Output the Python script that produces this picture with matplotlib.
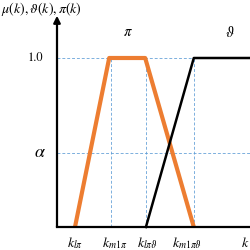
import matplotlib.pyplot as plt

plt.rcParams['mathtext.fontset'] = 'stix'
plt.rcParams['font.family'] = 'STIXGeneral'

# breakpoints on the k axis
k_ticks = [0.5, 1.5, 2.47, 3.8]
k_labels = [r'$k_{l\pi}$', r'$k_{m1\pi}$', r'$k_{l\pi\vartheta}$', r'$k_{m1\pi\vartheta}$']
k_end = 5.4

alpha = 0.44

# membership functions
pi_x = [0.5, 1.45, 2.45, 3.8]
pi_y = [0.0, 1.0, 1.0, 0.0]
theta_x = [2.47, 3.8, 5.4]
theta_y = [0.0, 1.0, 1.0]

orange = '#ED7D31'
blue = '#5B9BD5'

fig = plt.figure(figsize=(2.5, 2.5), dpi=100)
ax = fig.add_axes([0, 0, 1, 1])
ax.set_xlim(-57 / 36, 193 / 36)
ax.set_ylim(-23 / 169, 227 / 169)
ax.axis('off')

# guide lines
for y in [1.0, alpha]:
    ax.plot([0, k_end], [y, y], color=blue, lw=0.7, alpha=0.8, ls=(0, (3, 2)), zorder=1)
for x in k_ticks[1:]:
    ax.plot([x, x], [0, 1.0], color=blue, lw=0.7, alpha=0.8, ls=(0, (3, 2)), zorder=1)

# axes
ax.plot([0, k_end], [0, 0], color='black', lw=1.6, zorder=3)
ax.annotate('', xy=(0, 1.25), xytext=(0, 0),
            arrowprops=dict(arrowstyle='-|>', color='black', lw=1.6,
                            mutation_scale=10, shrinkA=0, shrinkB=0), zorder=3)

ax.plot(pi_x, pi_y, color=orange, lw=3, solid_capstyle='butt', zorder=2)
ax.plot(theta_x, theta_y, color='black', lw=1.8, zorder=2)

ax.text(-1.56, 1.29, r'$\mu(k),\vartheta(k),\pi(k)$', fontsize=10, va='center', ha='left')
ax.text(1.97, 1.15, r'$\pi$', fontsize=10.5, ha='center', va='center')
ax.text(4.8, 1.15, r'$\vartheta$', fontsize=10.5, ha='center', va='center')
ax.text(-0.6, 1.0, '1.0', fontsize=9, ha='center', va='center')
ax.text(-0.47, alpha, r'$\alpha$', fontsize=13, ha='center', va='center')

label_x = [0.5, 1.6, 2.5, 3.6]
for x, lab in zip(label_x, k_labels):
    ax.text(x, -0.095, lab, fontsize=10, ha='center', va='center')
ax.text(5.35, -0.095, r'$k$', fontsize=10, ha='right', va='center')

fig.savefig('out.png', dpi=100)
